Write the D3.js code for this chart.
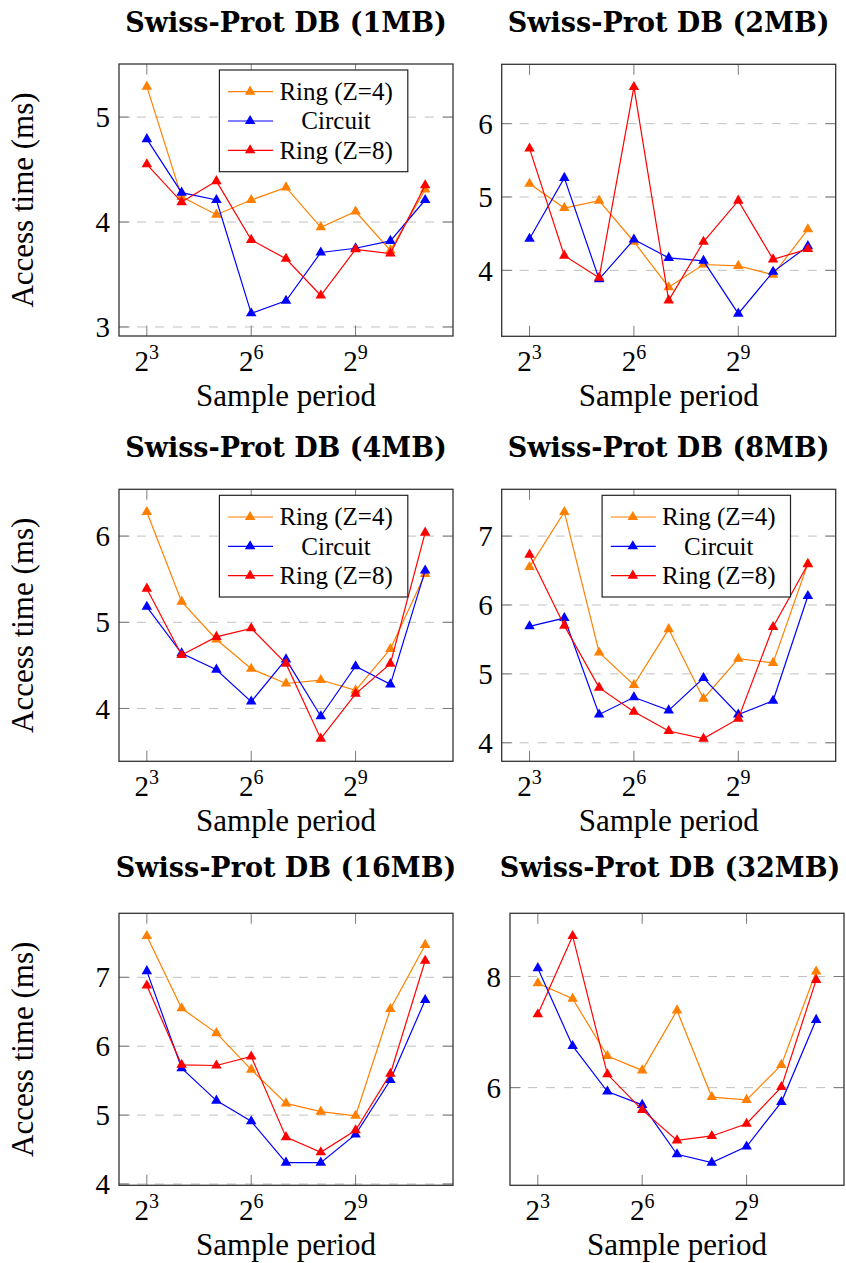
<!DOCTYPE html>
<html>
<head>
<meta charset="utf-8">
<script src="https://cdn.jsdelivr.net/npm/d3@7"></script>
<style>
  html, body { margin: 0; padding: 0; background: #fff; }
  svg { display: block; }
</style>
</head>
<body>
<svg id="chart" width="846" height="1263" font-family="'Liberation Serif', 'Times New Roman', serif"></svg>
<script>
// ---------- data ----------
const xExponents = [3, 4, 5, 6, 7, 8, 9, 10, 11];          // sample period = 2^x
const xTickExponents = [3, 6, 9];
const seriesNames = ["Ring (Z=4)", "Circuit", "Ring (Z=8)"];
const seriesColors = ["#ff8000", "#0000ff", "#ff0000"];
const panelTitles = ["Swiss-Prot DB (1MB)", "Swiss-Prot DB (2MB)", "Swiss-Prot DB (4MB)",
                     "Swiss-Prot DB (8MB)", "Swiss-Prot DB (16MB)", "Swiss-Prot DB (32MB)"];

const ring4_1MB   = [5.29, 4.24, 4.07, 4.21, 4.33, 3.95, 4.10, 3.73, 4.31];
const circuit_1MB = [4.79, 4.28, 4.21, 3.13, 3.25, 3.71, 3.75, 3.82, 4.21];
const ring8_1MB   = [4.55, 4.19, 4.39, 3.83, 3.65, 3.30, 3.74, 3.70, 4.35];

const ring4_2MB   = [5.18, 4.85, 4.95, 4.39, 3.77, 4.08, 4.06, 3.94, 4.56];
const circuit_2MB = [4.43, 5.26, 3.88, 4.42, 4.17, 4.13, 3.41, 3.98, 4.33];
const ring8_2MB   = [5.66, 4.20, 3.90, 6.50, 3.59, 4.39, 4.95, 4.15, 4.29];

const ring4_4MB   = [6.28, 5.24, 4.80, 4.46, 4.29, 4.33, 4.21, 4.69, 5.56];
const circuit_4MB = [5.18, 4.64, 4.45, 4.08, 4.57, 3.91, 4.49, 4.28, 5.60];
const ring8_4MB   = [5.39, 4.62, 4.83, 4.93, 4.52, 3.65, 4.17, 4.52, 6.04];

const ring4_8MB   = [6.55, 7.35, 5.31, 4.84, 5.65, 4.64, 5.22, 5.16, 6.60];
const circuit_8MB = [5.69, 5.81, 4.41, 4.66, 4.47, 4.94, 4.41, 4.61, 6.13];
const ring8_8MB   = [6.73, 5.70, 4.80, 4.45, 4.17, 4.06, 4.35, 5.68, 6.59];

const ring4_16MB   = [7.60, 6.55, 6.19, 5.66, 5.17, 5.05, 4.99, 6.54, 7.47];
const circuit_16MB = [7.09, 5.68, 5.21, 4.91, 4.31, 4.31, 4.72, 5.51, 6.67];
const ring8_16MB   = [6.88, 5.73, 5.72, 5.85, 4.68, 4.46, 4.78, 5.60, 7.24];

const ring4_32MB   = [7.88, 7.60, 6.57, 6.31, 7.39, 5.83, 5.78, 6.41, 8.09];
const circuit_32MB = [8.15, 6.75, 5.93, 5.69, 4.80, 4.65, 4.94, 5.74, 7.22];
const ring8_32MB   = [7.32, 8.73, 6.24, 5.60, 5.05, 5.13, 5.35, 6.01, 7.94];

const yTicks_1MB  = [3, 4, 5];
const yTicks_2MB  = [4, 5, 6];
const yTicks_4MB  = [4, 5, 6];
const yTicks_8MB  = [4, 5, 6, 7];
const yTicks_16MB = [4, 5, 6, 7];
const yTicks_32MB = [6, 8];

const panelSeries = [
  [ring4_1MB, circuit_1MB, ring8_1MB],
  [ring4_2MB, circuit_2MB, ring8_2MB],
  [ring4_4MB, circuit_4MB, ring8_4MB],
  [ring4_8MB, circuit_8MB, ring8_8MB],
  [ring4_16MB, circuit_16MB, ring8_16MB],
  [ring4_32MB, circuit_32MB, ring8_32MB]
];
const panelYTicks = [yTicks_1MB, yTicks_2MB, yTicks_4MB, yTicks_8MB, yTicks_16MB, yTicks_32MB];
const panelHasLegend = [true, false, true, true, false, false];

// ---------- layout ----------
const W = 334, H = 272;
const frames = [
  {left: 119,   top: 64,    titleX: 286,   titleY: 31.7},
  {left: 501.7, top: 64.3,  titleX: 668.7, titleY: 31.7},
  {left: 119,   top: 489.3, titleX: 286,   titleY: 457},
  {left: 501.7, top: 489.3, titleX: 668.7, titleY: 457},
  {left: 119,   top: 913.3, titleX: 286,   titleY: 877},
  {left: 510,   top: 913.3, titleX: 670,   titleY: 877}
];

const svg = d3.select("#chart");

panelTitles.forEach((title, pi) => {
  const f = frames[pi];
  const series = panelSeries[pi];

  // x: log2 axis with pgfplots-style 10% enlargement
  const xr = d3.extent(xExponents);
  const xPad = (xr[1] - xr[0]) * 0.1;
  const x = d3.scaleLinear().domain([xr[0] - xPad, xr[1] + xPad]).range([0, W]);

  const allY = series.flat();
  const yr = d3.extent(allY);
  const yPad = (yr[1] - yr[0]) * 0.1;
  const y = d3.scaleLinear().domain([yr[0] - yPad, yr[1] + yPad]).range([H, 0]);

  const g = svg.append("g").attr("transform", `translate(${f.left},${f.top})`);

  // title
  svg.append("text")
    .attr("x", f.titleX).attr("y", f.titleY)
    .attr("text-anchor", "middle")
    .attr("font-family", "'DejaVu Serif', serif")
    .attr("font-weight", "bold")
    .attr("font-size", 27)
    .text(title);

  // grid lines
  g.append("g").selectAll("line").data(panelYTicks[pi]).join("line")
    .attr("x1", 0).attr("x2", W)
    .attr("y1", d => y(d)).attr("y2", d => y(d))
    .attr("stroke", "#c0c0c0").attr("stroke-width", 1)
    .attr("stroke-dasharray", "9,9");

  // tick marks (inside, on all sides)
  const tickLen = 10.5;
  const tickG = g.append("g").attr("stroke", "#7a7a7a").attr("stroke-width", 1);
  xTickExponents.forEach(e => {
    tickG.append("line").attr("x1", x(e)).attr("x2", x(e)).attr("y1", H).attr("y2", H - tickLen);
    tickG.append("line").attr("x1", x(e)).attr("x2", x(e)).attr("y1", 0).attr("y2", tickLen);
  });
  panelYTicks[pi].forEach(v => {
    tickG.append("line").attr("x1", 0).attr("x2", tickLen).attr("y1", y(v)).attr("y2", y(v));
    tickG.append("line").attr("x1", W).attr("x2", W - tickLen).attr("y1", y(v)).attr("y2", y(v));
  });

  // series
  const line = d3.line().x((d, i) => x(xExponents[i])).y(d => y(d));
  series.forEach((vals, si) => {
    g.append("path").datum(vals)
      .attr("d", line)
      .attr("fill", "none")
      .attr("stroke", seriesColors[si])
      .attr("stroke-width", 1.2);
    g.append("g").selectAll("path").data(vals).join("path")
      .attr("d", d3.symbol(d3.symbolTriangle, 48))
      .attr("transform", (d, i) => `translate(${x(xExponents[i])},${y(d)})`)
      .attr("fill", seriesColors[si]);
  });

  // frame
  g.append("rect").attr("x", 0).attr("y", 0).attr("width", W).attr("height", H)
    .attr("fill", "none").attr("stroke", "#333").attr("stroke-width", 1.3);

  // x tick labels 2^n
  xTickExponents.forEach(e => {
    const t = g.append("text")
      .attr("x", x(e)).attr("y", H + 35)
      .attr("text-anchor", "middle")
      .attr("font-size", 29);
    t.append("tspan").text("2");
    t.append("tspan").attr("dy", -12).attr("font-size", 20).text(e);
  });

  // y tick labels
  panelYTicks[pi].forEach(v => {
    g.append("text")
      .attr("x", -9).attr("y", y(v))
      .attr("dy", "0.35em")
      .attr("text-anchor", "end")
      .attr("font-size", 29)
      .text(v);
  });

  // x axis label
  g.append("text")
    .attr("x", W / 2).attr("y", H + 70)
    .attr("text-anchor", "middle")
    .attr("font-size", 31)
    .text("Sample period");

  // y axis label on left column
  if (pi % 2 === 0) {
    g.append("text")
      .attr("transform", `translate(${33 - f.left},${H / 2}) rotate(-90)`)
      .attr("text-anchor", "middle")
      .attr("font-size", 31)
      .text("Access time (ms)");
  }

  // legend
  if (panelHasLegend[pi]) {
    const lg = g.append("g").attr("transform", "translate(100.4,6)");
    lg.append("rect").attr("width", 188.4).attr("height", 101.7)
      .attr("fill", "#fff").attr("stroke", "#222").attr("stroke-width", 1.2);
    seriesNames.forEach((name, si) => {
      const ry = 21.7 + si * 29.3;
      lg.append("line").attr("x1", 8.7).attr("x2", 53.7).attr("y1", ry).attr("y2", ry)
        .attr("stroke", seriesColors[si]).attr("stroke-width", 1.2);
      lg.append("path").attr("d", d3.symbol(d3.symbolTriangle, 48))
        .attr("transform", `translate(30.7,${ry})`).attr("fill", seriesColors[si]);
      lg.append("text").attr("x", 116.7).attr("y", ry).attr("dy", "0.33em")
        .attr("text-anchor", "middle").attr("font-size", 25).text(name);
    });
  }
});
</script>
</body>
</html>
